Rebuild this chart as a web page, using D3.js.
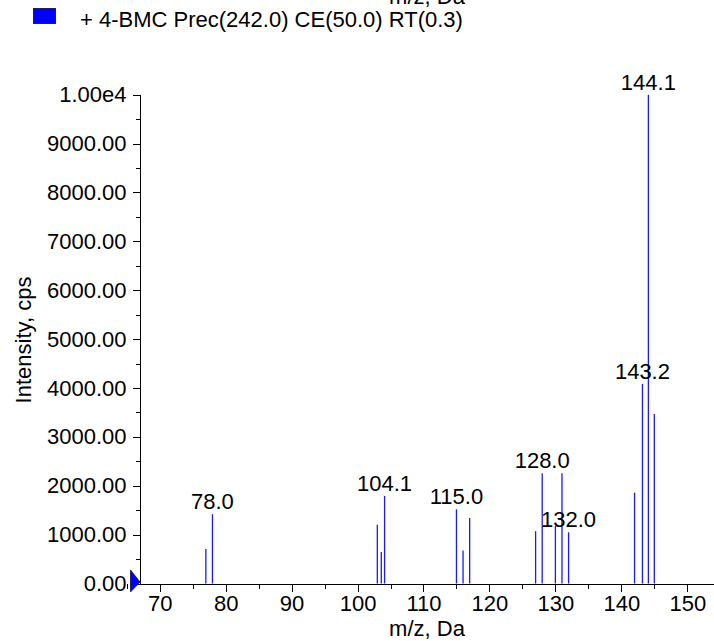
<!DOCTYPE html>
<html>
<head>
<meta charset="utf-8">
<script src="https://cdn.jsdelivr.net/npm/d3@7"></script>
<style>
  body { margin: 0; background: #fff; }
  svg { display: block; font-family: "Liberation Sans", Arial, sans-serif; }
  .axis path, .axis line { stroke: #000; shape-rendering: crispEdges; }
  .axis text { font-size: 22px; fill: #000; }
</style>
</head>
<body>
<div id="chart"></div>
<script>
// spectrum peaks (m/z, intensity)
var mzValues = [77, 78, 103, 103.6, 104.1, 115, 116, 117, 127, 128, 130, 131, 132, 142, 143.2, 144.1, 145];
var intensities = [706, 1417, 1200, 645, 1791, 1518, 677, 1340, 1070, 2256, 1177, 2256, 1048, 1859, 4084, 10000, 3470];
var labelledPeaks = [78.0, 104.1, 115.0, 128.0, 132.0, 143.2, 144.1];
var xTicks = [70, 80, 90, 100, 110, 120, 130, 140, 150];
var yTicks = [0, 1000, 2000, 3000, 4000, 5000, 6000, 7000, 8000, 9000, 10000];
var legendText = "+ 4-BMC Prec(242.0) CE(50.0) RT(0.3)";

var svgWidth = 714, svgHeight = 641;

var svg = d3.select("#chart")
    .append("svg")
    .attr("width", svgWidth)
    .attr("height", svgHeight);

var peaks = mzValues.map(function(m, i) { return { mz: m, value: intensities[i] }; });

// scales
var x = d3.scaleLinear().domain([66.94, 154.05]).range([139.5, 714]);
var y = d3.scaleLinear().domain([0, 10000]).range([583.5, 94.7]);

// cut-off title from above
svg.append("text")
    .attr("x", 427).attr("y", 4)
    .attr("text-anchor", "middle")
    .style("font-size", "22px")
    .text("m/z, Da");

// legend
svg.append("rect")
    .attr("x", 33.5).attr("y", 8.5)
    .attr("width", 22).attr("height", 15)
    .attr("fill", "#0000ff")
    .attr("stroke", "#202060")
    .attr("stroke-width", 1);

svg.append("text")
    .attr("x", 80).attr("y", 27)
    .style("font-size", "22px")
    .text(legendText);

// minor ticks
svg.append("g")
    .attr("class", "axis")
    .attr("transform", "translate(0,583.5)")
    .call(d3.axisBottom(x).tickValues(d3.range(65, 155, 5)).tickSize(5).tickSizeOuter(0).tickFormat(""));

svg.append("g")
    .attr("class", "axis")
    .attr("transform", "translate(139.5,0)")
    .call(d3.axisLeft(y).tickValues(d3.range(500, 10000, 1000)).tickSize(4).tickSizeOuter(0).tickFormat(""));

// major axes
svg.append("g")
    .attr("class", "axis")
    .attr("transform", "translate(0,583.5)")
    .call(d3.axisBottom(x).tickValues(xTicks).tickSize(8).tickPadding(4).tickSizeOuter(0));

svg.append("g")
    .attr("class", "axis")
    .attr("transform", "translate(139.5,0)")
    .call(d3.axisLeft(y).tickValues(yTicks).tickSize(7).tickPadding(6).tickSizeOuter(0)
        .tickFormat(function(d) { return d === 10000 ? "1.00e4" : d.toFixed(2); }));

// axis titles
svg.append("text")
    .attr("x", 427).attr("y", 636)
    .attr("text-anchor", "middle")
    .style("font-size", "22px")
    .text("m/z, Da");

svg.append("text")
    .attr("transform", "translate(31,340) rotate(-90)")
    .attr("text-anchor", "middle")
    .style("font-size", "22px")
    .text("Intensity, cps");

// peaks
svg.selectAll("line.peak")
    .data(peaks)
    .enter()
    .append("line")
    .attr("class", "peak")
    .attr("x1", function(d) { return x(d.mz); })
    .attr("x2", function(d) { return x(d.mz); })
    .attr("y1", y(0))
    .attr("y2", function(d) { return y(d.value); })
    .attr("stroke", "#1a1aff")
    .attr("stroke-width", 1.3);

// peak labels
svg.selectAll("text.peakLabel")
    .data(peaks.filter(function(d) { return labelledPeaks.indexOf(d.mz) >= 0; }))
    .enter()
    .append("text")
    .attr("class", "peakLabel")
    .attr("x", function(d) { return x(d.mz); })
    .attr("y", function(d) { return y(d.value) - 5; })
    .attr("text-anchor", "middle")
    .style("font-size", "22px")
    .text(function(d) { return d.mz.toFixed(1); });

// start marker on the y axis
svg.append("path")
    .attr("d", "M130.5,570 L130.5,592 L140,582 Z")
    .attr("fill", "#0000ff")
    .attr("stroke", "#101040")
    .attr("stroke-width", 0.8);
</script>
</body>
</html>
